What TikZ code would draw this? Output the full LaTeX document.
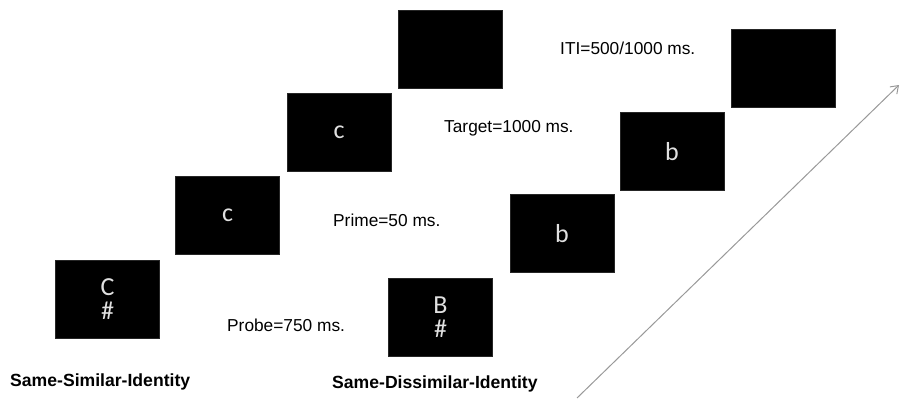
\documentclass[tikz,border=0pt]{standalone}
\usepackage{fontspec}
\setmainfont{Liberation Sans}
\newfontfamily\screenfont{Carlito}
\usetikzlibrary{arrows, arrows.meta, positioning}

\begin{document}
\begin{tikzpicture}[x=1pt,y=-1pt]
    \tikzstyle{screen}=[shape=rectangle,fill=black,draw=black!85,minimum width=104pt,minimum height=78pt,inner sep=0pt,text=white!88!black,font=\screenfont\fontsize{26}{27}\selectfont,align=center]
    \tikzstyle{timing}=[anchor=west,inner sep=0pt,font=\fontsize{17.3}{19}\selectfont]
    \tikzstyle{cond}=[anchor=west,inner sep=0pt,font=\bfseries\fontsize{17.6}{19}\selectfont]

    \useasboundingbox (0,0) rectangle (904,402);

    % same-similar-identity sequence
    \node[screen] (S1) at (107.5,299) {C\\[-3pt]\#};
    \node[screen] (S2) at (227.5,215) {c};
    \node[screen] (S3) at (339,132) {c};
    \node[screen] (S4) at (450,49) {};

    % same-dissimilar-identity sequence
    \node[screen] (D1) at (440.5,317) {B\\[-3pt]\#};
    \node[screen] (D2) at (562,233.5) {b};
    \node[screen] (D3) at (672,151.5) {b};
    \node[screen] (D4) at (783,68) {};

    % durations
    \node[timing] (iti) at (560,48) {ITI=500/1000 ms.};
    \node[timing] (target) at (444,128) {Target=1000 ms.};
    \node[timing] (prime) at (333,220) {Prime=50 ms.};
    \node[timing] (probe) at (227,325) {Probe=750 ms.};

    \node[cond] (simlabel) at (10,382) {Same-Similar-Identity};
    \node[cond] (dislabel) at (332,384) {Same-Dissimilar-Identity};

    % time axis
    \coordinate (t0) at (577,398);
    \coordinate (t1) at (899,85);
    \draw[-{Straight Barb[length=7pt,width=10pt]},gray!80,line width=1pt] (t0) -- (t1);
\end{tikzpicture}
\end{document}
